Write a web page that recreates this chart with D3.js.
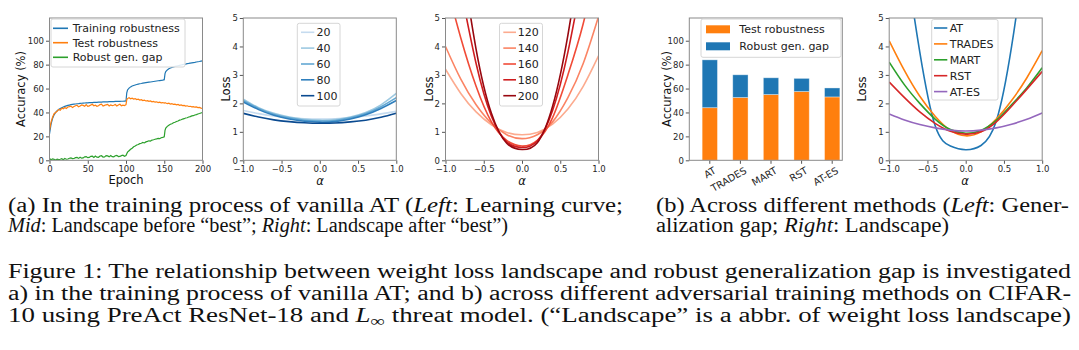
<!DOCTYPE html>
<html>
<head>
<meta charset="utf-8">
<script src="https://cdn.jsdelivr.net/npm/d3@7"></script>
<style>
  body { margin: 0; background: #fff; }
  svg { display: block; }
  .tick text { font-family: "DejaVu Sans", sans-serif; font-size: 8.5px; fill: #262626; }
  .tick line { stroke: #555; }
</style>
</head>
<body>
<script>
// ---- data ----
// learning curve (epoch, accuracy %)
epochs = [0,2,4,6,8,10,12,14,16,18,20,22,24,26,28,30,32,34,36,38,40,42,44,46,48,50,
  52,54,56,58,60,62,64,66,68,70,72,74,76,78,80,82,84,86,88,90,92,94,96,98,100,
  101,102,104,106,108,110,112,114,116,118,120,122,124,126,128,130,132,134,136,138,140,142,144,146,148,150,
  151,152,154,156,158,160,162,164,166,168,170,172,174,176,178,180,182,184,186,188,190,192,194,196,198,200];
trainRob = [22,30,35,38,40,41.5,42.5,43.3,44,44.6,45.1,45.5,45.9,46.2,46.5,46.7,46.9,47.1,47.3,47.4,
  47.6,47.7,47.8,47.9,48.0,48.1,48.2,48.3,48.3,48.4,48.5,48.5,48.6,48.7,48.7,48.8,48.8,48.9,48.9,49.0,
  49.0,49.1,49.1,49.2,49.2,49.3,49.3,49.4,49.4,49.5,49.6,
  56.5,58.8,60.4,61.4,62.1,62.6,63.0,63.4,63.7,64.0,64.2,64.5,64.7,64.9,65.1,65.3,65.5,65.7,65.9,66.1,66.3,66.5,66.7,66.9,67.1,67.4,
  72.5,74.2,75.6,76.5,77.2,77.7,78.1,78.5,78.8,79.1,79.4,79.7,80.0,80.3,80.5,80.8,81.0,81.3,81.5,81.7,81.9,82.2,82.4,82.6,82.9,83.1];
testRob = [25,32,36,39,40,41,42.5,41.8,43.5,43.1,44.2,43.4,44.6,44.9,45.3,44.1,45.0,45.6,46.0,44.7,
  45.4,46.3,45.9,45.2,46.5,45.1,45.5,46.2,46.8,45.6,46.1,45.2,45.6,46.6,46.9,45.3,45.9,46.4,46.8,45.5,
  46.3,45.8,46.0,46.7,45.4,46.2,46.9,45.6,46.1,45.8,46.5,
  50.8,51.6,52.3,51.4,52.0,51.2,51.6,50.8,51.1,50.4,50.7,49.9,50.3,49.6,49.9,49.3,49.6,48.9,49.2,48.6,48.9,48.3,48.6,48.0,48.3,47.8,
  48.2,47.9,47.4,47.7,47.0,47.3,46.7,47.0,46.4,46.7,46.0,46.3,45.7,45.9,45.3,45.6,45.0,45.2,44.7,44.9,44.4,44.6,44.1,44.2,43.7,43.5];
genGap = [1.5,0.5,1.2,0.8,0.3,1.0,0.6,0.9,1.3,0.4,1.5,0.9,1.1,1.7,2.0,1.4,1.5,2.2,2.4,1.6,
  2.6,1.8,2.0,2.9,3.1,2.2,2.4,3.3,3.4,2.3,3.5,2.6,2.5,3.6,3.8,2.7,2.8,3.9,3.7,2.9,
  4.0,3.0,2.9,3.8,4.1,3.1,3.2,3.9,4.3,3.4,4.0,
  5.5,6.8,8.0,9.2,10.1,11.3,11.9,12.8,13.2,13.9,14.3,14.9,14.5,15.4,15.8,16.3,16.1,16.9,17.2,17.6,17.9,18.3,18.1,18.9,19.2,19.6,
  25,27.0,28.4,29.3,30.1,30.6,31.4,31.8,32.5,32.9,33.6,33.9,34.5,34.8,35.4,35.6,36.2,36.5,37.1,37.3,37.9,38.2,38.7,39.1,39.6,40.0];

// loss landscapes (alpha -> loss)
alphas = [-1,-0.8,-0.6,-0.4,-0.2,0,0.2,0.4,0.6,0.8,1];
beforeLabels = ["20","40","60","80","100"];
beforeLoss = [
  [1.75,1.64,1.56,1.50,1.46,1.45,1.46,1.50,1.56,1.63,1.72],
  [2.15,1.85,1.65,1.52,1.44,1.41,1.43,1.52,1.68,1.95,2.35],
  [2.10,1.82,1.62,1.49,1.41,1.38,1.40,1.49,1.64,1.88,2.20],
  [2.05,1.78,1.58,1.45,1.37,1.34,1.36,1.45,1.60,1.82,2.10],
  [1.65,1.52,1.42,1.36,1.32,1.30,1.31,1.35,1.41,1.51,1.65]
];
afterLabels = ["120","140","160","180","200"];
afterLoss = [
  [3.2,2.35,1.7,1.25,0.98,0.9,0.98,1.27,1.8,2.6,3.67],
  [4.0,2.85,1.95,1.3,0.9,0.76,0.9,1.35,2.2,3.4,5.05],
  [6.3,4.3,2.6,1.35,0.7,0.5,0.7,1.5,3.0,4.8,7.2],
  [8.5,6.0,3.4,1.55,0.65,0.45,0.68,1.75,3.8,6.6,9.5],
  [10,7.2,3.9,1.65,0.6,0.38,0.62,1.9,4.4,7.8,11]
];
methods = ["AT","TRADES","MART","RST","AT-ES"];
methodTest = [44,52.5,55,57.5,53];
methodGap = [40,19,14,11,7.5];
methodLoss = [
  [12,7.5,3.8,1.22,0.5,0.37,0.52,1.38,4.0,8,13],
  [4.2,3.15,2.25,1.55,1.05,0.86,1.0,1.45,2.1,2.9,3.85],
  [3.45,2.65,2.0,1.45,1.08,0.95,1.05,1.4,1.95,2.55,3.25],
  [2.75,2.2,1.7,1.3,1.02,0.92,1.0,1.35,1.9,2.5,3.12],
  [1.63,1.42,1.26,1.14,1.06,1.03,1.06,1.14,1.27,1.44,1.66]
];
accTicks = [0,20,40,60,80,100];
lossTicks = [0,1,2,3,4,5];
alphaTicks = [-1,-0.5,0,0.5,1];
epochTicks = [0,50,100,150,200];

blues = ["#c5dbef","#9dc9e1","#63a8d3","#2f7fbd","#0a4a90"];
reds = ["#fcab8f","#fb8464","#f14b37","#cf1d1f","#98070f"];
tab = ["#1f77b4","#ff7f0e","#2ca02c","#d62728","#9467bd"];

// ---- layout ----
W = 1079; H = 350;
top_ = 18; bot = 160.3; pw = 153;
svg = d3.select('body').append('svg').attr('width', W).attr('height', H);
defs = svg.append('defs');

function makePanel(id, left, xdom, ydom, xticks, yticks, xfmt, yfmt) {
  var x = d3.scaleLinear().domain(xdom).range([left, left + pw]);
  var y = d3.scaleLinear().domain(ydom).range([bot, top_]);
  defs.append('clipPath').attr('id', 'clip' + id)
    .append('rect').attr('x', left).attr('y', top_).attr('width', pw).attr('height', bot - top_);
  var g = svg.append('g');
  var plot = g.append('g').attr('clip-path', 'url(#clip' + id + ')');
  if (xticks) {
    g.append('g').attr('transform', 'translate(0,' + bot + ')')
      .call(d3.axisBottom(x).tickValues(xticks).tickFormat(xfmt).tickSize(3.5).tickPadding(2))
      .call(a => a.select('.domain').remove());
  }
  g.append('g').attr('transform', 'translate(' + left + ',0)')
    .call(d3.axisLeft(y).tickValues(yticks).tickFormat(yfmt).tickSize(3.5).tickPadding(2))
    .call(a => a.select('.domain').remove());
  return {g: g, plot: plot, x: x, y: y, left: left};
}

function frame(p) {
  p.g.append('rect').attr('x', p.left).attr('y', top_).attr('width', pw).attr('height', bot - top_)
    .attr('fill', 'none').attr('stroke', '#8a8a8a').attr('stroke-width', 1);
}

function legendBox(x0, y0, w, h) {
  svg.append('rect').attr('x', x0).attr('y', y0).attr('width', w).attr('height', h)
    .attr('rx', 2).attr('fill', 'white').attr('fill-opacity', 0.85)
    .attr('stroke', '#d6d6d6').attr('stroke-width', 1);
}

function lineLegend(labels, colors, x0, y0, w, h, ys, lx0, lx1, tx) {
  legendBox(x0, y0, w, h);
  labels.forEach(function(l, i) {
    svg.append('line').attr('x1', lx0).attr('x2', lx1).attr('y1', ys[i]).attr('y2', ys[i])
      .attr('stroke', colors[i]).attr('stroke-width', 1.6);
    svg.append('text').attr('x', tx).attr('y', ys[i]).attr('dy', '0.36em')
      .attr('font-family', 'DejaVu Sans').attr('font-size', 11).attr('fill', '#222').text(l);
  });
}

function axisLabel(txt, x, y, rot, italic) {
  svg.append('text').attr('transform', 'translate(' + x + ',' + y + ')' + (rot ? ' rotate(-90)' : ''))
    .attr('text-anchor', 'middle').attr('dy', '0.36em')
    .attr('font-family', 'DejaVu Sans').attr('font-size', 11.5).attr('fill', '#111')
    .attr('font-style', italic ? 'italic' : 'normal').text(txt);
}

fmt1 = d3.format('.1f');
fmt0 = d3.format('d');

// ---- panel 1: learning curve ----
p1 = makePanel(1, 49.5, [0, 200], [0, 119], epochTicks, accTicks, fmt0, fmt0);
[[trainRob, tab[0]], [testRob, tab[1]], [genGap, tab[2]]].forEach(function(s) {
  var line = d3.line().x((d, i) => p1.x(epochs[i])).y(d => p1.y(d));
  p1.plot.append('path').datum(s[0]).attr('d', line)
    .attr('fill', 'none').attr('stroke', s[1]).attr('stroke-width', 1.2);
});
frame(p1);
lineLegend(["Training robustness", "Test robustness", "Robust gen. gap"], tab,
  51, 19, 134, 48, [28.3, 42.7, 57.3], 53, 68, 72.7);
axisLabel("Accuracy (%)", 21, 89, true);
axisLabel("Epoch", 126, 180, false);

// ---- panels 2,3,5: landscapes ----
function landscape(id, left, series, colors) {
  var p = makePanel(id, left, [-1, 1], [0, 5], alphaTicks, lossTicks, fmt1, fmt0);
  var line = d3.line().x((d, i) => p.x(alphas[i])).y(d => p.y(d)).curve(d3.curveNatural);
  series.forEach(function(s, i) {
    p.plot.append('path').datum(s).attr('d', line)
      .attr('fill', 'none').attr('stroke', colors[i]).attr('stroke-width', 1.6);
  });
  frame(p);
  return p;
}
p2 = landscape(2, 243.3, beforeLoss, blues);
lineLegend(beforeLabels, blues, 297.3, 23.3, 42.7, 82.7,
  [32.3, 48.1, 64, 79.8, 95.7], 301, 314.3, 316.5);
axisLabel("Loss", 226, 89, true);
axisLabel("\u03b1", 320, 181, false, true);

p3 = landscape(3, 445.5, afterLoss, reds);
lineLegend(afterLabels, reds, 499.5, 23.3, 43, 82.7,
  [32.3, 48.1, 64, 79.8, 95.7], 503.3, 516, 517.7);
axisLabel("Loss", 429, 89, true);
axisLabel("\u03b1", 522, 181, false, true);

p5 = landscape(5, 889.2, methodLoss, tab);
lineLegend(methods, tab, 931.7, 19.5, 66.3, 80.5,
  [28, 43.9, 59.8, 75.7, 91.6], 934, 947.3, 949.7);
axisLabel("Loss", 862, 89, true);
axisLabel("\u03b1", 965, 181, false, true);

// ---- panel 4: stacked bars ----
p4 = makePanel(4, 689.3, [-0.67, 4.33], [0, 119], null, accTicks, null, fmt0);
methods.forEach(function(m, i) {
  var xc = p4.x(i), bw = p4.x(0.25) - p4.x(-0.25);
  p4.plot.append('rect').attr('x', xc - bw / 2).attr('width', bw)
    .attr('y', p4.y(methodTest[i])).attr('height', p4.y(0) - p4.y(methodTest[i]))
    .attr('fill', tab[1]).attr('stroke', 'rgba(255,255,255,0.45)').attr('stroke-width', 0.8);
  p4.plot.append('rect').attr('x', xc - bw / 2).attr('width', bw)
    .attr('y', p4.y(methodTest[i] + methodGap[i])).attr('height', p4.y(methodTest[i]) - p4.y(methodTest[i] + methodGap[i]))
    .attr('fill', tab[0]).attr('stroke', 'rgba(255,255,255,0.45)').attr('stroke-width', 0.8);
  p4.g.append('line').attr('x1', xc).attr('x2', xc).attr('y1', bot).attr('y2', bot + 3.5).attr('stroke', '#555');
  p4.g.append('text').attr('transform', 'translate(' + (xc + 3) + ',' + (bot + 5.5) + ') rotate(-30)')
    .attr('text-anchor', 'end').attr('dy', '0.8em')
    .attr('font-family', 'DejaVu Sans').attr('font-size', 9.8).attr('fill', '#262626').text(m);
});
frame(p4);
legendBox(701, 19, 140, 38.3);
[["Test robustness", tab[1], 29.3], ["Robust gen. gap", tab[0], 46.3]].forEach(function(r) {
  svg.append('rect').attr('x', 706).attr('y', r[2] - 4).attr('width', 24).attr('height', 8).attr('fill', r[1]);
  svg.append('text').attr('x', 739.3).attr('y', r[2]).attr('dy', '0.36em')
    .attr('font-family', 'DejaVu Sans').attr('font-size', 11).attr('fill', '#222').text(r[0]);
});
axisLabel("Accuracy (%)", 666.5, 89, true);

// ---- captions ----
function caption(x, y, len, parts, fs) {
  var t = svg.append('text').attr('x', x).attr('y', y)
    .attr('font-family', '"Liberation Serif", "Times New Roman", serif').attr('font-size', fs || 20)
    .attr('fill', '#111').attr('textLength', len).attr('lengthAdjust', 'spacingAndGlyphs');
  parts.forEach(function(p) {
    var s = t.append('tspan').text(p[0]);
    if (p[1] === 'i') s.attr('font-style', 'italic');
    if (p[1] === 'sub') s.attr('dy', 4).attr('font-size', (fs || 20) * 0.75);
    if (p[1] === 'up') s.attr('dy', -4);
  });
}
caption(8, 212, 615, [["(a)  In the training process of vanilla AT ("], ["Left", 'i'], [": Learning curve;"]]);
caption(8, 232, 500, [["Mid", 'i'], [": Landscape before \u201cbest\u201d; "], ["Right", 'i'], [": Landscape after \u201cbest\u201d)"]]);
caption(656, 212, 413, [["(b)  Across different methods ("], ["Left", 'i'], [": Gener-"]]);
caption(656, 232, 293, [["alization gap; "], ["Right", 'i'], [": Landscape)"]]);
caption(8, 278, 1063, [["Figure 1: The relationship between weight loss landscape and robust generalization gap is investigated"]], 20);
caption(8, 300, 1063, [["a) in the training process of vanilla AT; and b) across different adversarial training methods on CIFAR-"]], 20);
caption(8, 321.5, 1063, [["10 using PreAct ResNet-18 and "], ["L", 'i'], ["\u221e", 'sub'], [" threat model. (\u201cLandscape\u201d is a abbr. of weight loss landscape)", 'up']], 20);
</script>
</body>
</html>
